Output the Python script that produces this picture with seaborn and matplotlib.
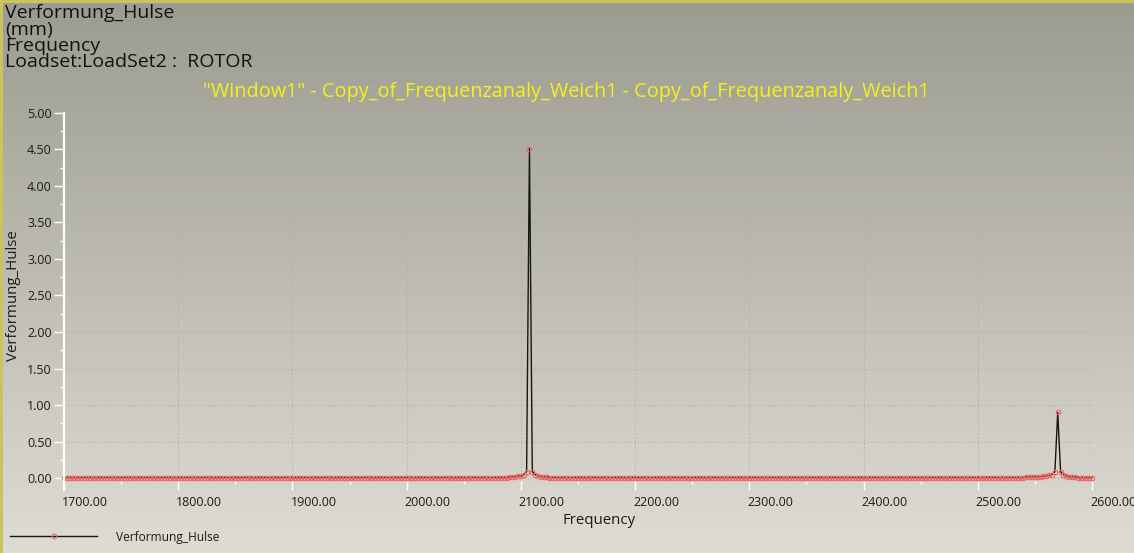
import numpy as np
import matplotlib
matplotlib.use("Agg")
import matplotlib.pyplot as plt
import matplotlib.transforms as mtransforms
from matplotlib.patches import Rectangle
from matplotlib.ticker import MultipleLocator
import seaborn as sns

# ---------------- data ----------------
frequency = [
    1700, 1702.5, 1705, 1707.5, 1710, 1712.5, 1715, 1717.5, 1720, 1722.5, 1725, 1727.5, 1730, 1732.5, 1735, 1737.5, 1740, 1742.5, 1745, 1747.5,
    1750, 1752.5, 1755, 1757.5, 1760, 1762.5, 1765, 1767.5, 1770, 1772.5, 1775, 1777.5, 1780, 1782.5, 1785, 1787.5, 1790, 1792.5, 1795, 1797.5,
    1800, 1802.5, 1805, 1807.5, 1810, 1812.5, 1815, 1817.5, 1820, 1822.5, 1825, 1827.5, 1830, 1832.5, 1835, 1837.5, 1840, 1842.5, 1845, 1847.5,
    1850, 1852.5, 1855, 1857.5, 1860, 1862.5, 1865, 1867.5, 1870, 1872.5, 1875, 1877.5, 1880, 1882.5, 1885, 1887.5, 1890, 1892.5, 1895, 1897.5,
    1900, 1902.5, 1905, 1907.5, 1910, 1912.5, 1915, 1917.5, 1920, 1922.5, 1925, 1927.5, 1930, 1932.5, 1935, 1937.5, 1940, 1942.5, 1945, 1947.5,
    1950, 1952.5, 1955, 1957.5, 1960, 1962.5, 1965, 1967.5, 1970, 1972.5, 1975, 1977.5, 1980, 1982.5, 1985, 1987.5, 1990, 1992.5, 1995, 1997.5,
    2000, 2002.5, 2005, 2007.5, 2010, 2012.5, 2015, 2017.5, 2020, 2022.5, 2025, 2027.5, 2030, 2032.5, 2035, 2037.5, 2040, 2042.5, 2045, 2047.5,
    2050, 2052.5, 2055, 2057.5, 2060, 2062.5, 2065, 2067.5, 2070, 2072.5, 2075, 2077.5, 2080, 2082.5, 2085, 2087.5, 2090, 2092.5, 2095, 2097.5,
    2100, 2102.5, 2105, 2107.5, 2110, 2112.5, 2115, 2117.5, 2120, 2122.5, 2125, 2127.5, 2130, 2132.5, 2135, 2137.5, 2140, 2142.5, 2145, 2147.5,
    2150, 2152.5, 2155, 2157.5, 2160, 2162.5, 2165, 2167.5, 2170, 2172.5, 2175, 2177.5, 2180, 2182.5, 2185, 2187.5, 2190, 2192.5, 2195, 2197.5,
    2200, 2202.5, 2205, 2207.5, 2210, 2212.5, 2215, 2217.5, 2220, 2222.5, 2225, 2227.5, 2230, 2232.5, 2235, 2237.5, 2240, 2242.5, 2245, 2247.5,
    2250, 2252.5, 2255, 2257.5, 2260, 2262.5, 2265, 2267.5, 2270, 2272.5, 2275, 2277.5, 2280, 2282.5, 2285, 2287.5, 2290, 2292.5, 2295, 2297.5,
    2300, 2302.5, 2305, 2307.5, 2310, 2312.5, 2315, 2317.5, 2320, 2322.5, 2325, 2327.5, 2330, 2332.5, 2335, 2337.5, 2340, 2342.5, 2345, 2347.5,
    2350, 2352.5, 2355, 2357.5, 2360, 2362.5, 2365, 2367.5, 2370, 2372.5, 2375, 2377.5, 2380, 2382.5, 2385, 2387.5, 2390, 2392.5, 2395, 2397.5,
    2400, 2402.5, 2405, 2407.5, 2410, 2412.5, 2415, 2417.5, 2420, 2422.5, 2425, 2427.5, 2430, 2432.5, 2435, 2437.5, 2440, 2442.5, 2445, 2447.5,
    2450, 2452.5, 2455, 2457.5, 2460, 2462.5, 2465, 2467.5, 2470, 2472.5, 2475, 2477.5, 2480, 2482.5, 2485, 2487.5, 2490, 2492.5, 2495, 2497.5,
    2500, 2502.5, 2505, 2507.5, 2510, 2512.5, 2515, 2517.5, 2520, 2522.5, 2525, 2527.5, 2530, 2532.5, 2535, 2537.5, 2540, 2542.5, 2545, 2547.5,
    2550, 2552.5, 2555, 2557.5, 2560, 2562.5, 2565, 2567.5, 2570, 2572.5, 2575, 2577.5, 2580, 2582.5, 2585, 2587.5, 2590, 2592.5, 2595, 2597.5,
    2600,
]

verformung_hulse = [
    0.01, 0.01, 0.01, 0.01, 0.01, 0.01, 0.01, 0.01, 0.01, 0.01, 0.01, 0.01, 0.01, 0.01, 0.01, 0.01, 0.01, 0.01, 0.01, 0.01,
    0.01, 0.01, 0.01, 0.01, 0.01, 0.01, 0.01, 0.01, 0.01, 0.01, 0.01, 0.01, 0.01, 0.01, 0.01, 0.01, 0.01, 0.01, 0.01, 0.01,
    0.01, 0.01, 0.01, 0.01, 0.01, 0.01, 0.01, 0.01, 0.01, 0.01, 0.01, 0.01, 0.01, 0.01, 0.01, 0.01, 0.01, 0.01, 0.01, 0.01,
    0.01, 0.01, 0.01, 0.01, 0.01, 0.01, 0.01, 0.01, 0.01, 0.01, 0.01, 0.01, 0.01, 0.01, 0.01, 0.01, 0.01, 0.01, 0.01, 0.01,
    0.01, 0.01, 0.01, 0.01, 0.01, 0.01, 0.01, 0.01, 0.01, 0.01, 0.01, 0.01, 0.01, 0.01, 0.01, 0.01, 0.01, 0.01, 0.01, 0.01,
    0.01, 0.01, 0.01, 0.01, 0.01, 0.01, 0.01, 0.01, 0.01, 0.01, 0.01, 0.01, 0.01, 0.01, 0.01, 0.01, 0.01, 0.01, 0.01, 0.01,
    0.01, 0.01, 0.01, 0.01, 0.01, 0.01, 0.01, 0.01, 0.01, 0.01, 0.01, 0.01, 0.01, 0.01, 0.01, 0.01, 0.01, 0.01, 0.01, 0.01,
    0.01, 0.01, 0.01, 0.01, 0.01, 0.01, 0.01, 0.01, 0.01, 0.01, 0.01, 0.01, 0.01, 0.01, 0.01, 0.01, 0.02, 0.02, 0.02, 0.03,
    0.03, 0.05, 0.09, 4.51, 0.09, 0.05, 0.03, 0.02, 0.02, 0.02, 0.01, 0.01, 0.01, 0.01, 0.01, 0.01, 0.01, 0.01, 0.01, 0.01,
    0.01, 0.01, 0.01, 0.01, 0.01, 0.01, 0.01, 0.01, 0.01, 0.01, 0.01, 0.01, 0.01, 0.01, 0.01, 0.01, 0.01, 0.01, 0.01, 0.01,
    0.01, 0.01, 0.01, 0.01, 0.01, 0.01, 0.01, 0.01, 0.01, 0.01, 0.01, 0.01, 0.01, 0.01, 0.01, 0.01, 0.01, 0.01, 0.01, 0.01,
    0.01, 0.01, 0.01, 0.01, 0.01, 0.01, 0.01, 0.01, 0.01, 0.01, 0.01, 0.01, 0.01, 0.01, 0.01, 0.01, 0.01, 0.01, 0.01, 0.01,
    0.01, 0.01, 0.01, 0.01, 0.01, 0.01, 0.01, 0.01, 0.01, 0.01, 0.01, 0.01, 0.01, 0.01, 0.01, 0.01, 0.01, 0.01, 0.01, 0.01,
    0.01, 0.01, 0.01, 0.01, 0.01, 0.01, 0.01, 0.01, 0.01, 0.01, 0.01, 0.01, 0.01, 0.01, 0.01, 0.01, 0.01, 0.01, 0.01, 0.01,
    0.01, 0.01, 0.01, 0.01, 0.01, 0.01, 0.01, 0.01, 0.01, 0.01, 0.01, 0.01, 0.01, 0.01, 0.01, 0.01, 0.01, 0.01, 0.01, 0.01,
    0.01, 0.01, 0.01, 0.01, 0.01, 0.01, 0.01, 0.01, 0.01, 0.01, 0.01, 0.01, 0.01, 0.01, 0.01, 0.01, 0.01, 0.01, 0.01, 0.01,
    0.01, 0.01, 0.01, 0.01, 0.01, 0.01, 0.01, 0.01, 0.01, 0.01, 0.01, 0.01, 0.01, 0.01, 0.01, 0.01, 0.01, 0.02, 0.02, 0.02,
    0.02, 0.02, 0.02, 0.03, 0.03, 0.04, 0.05, 0.09, 0.90, 0.09, 0.05, 0.03, 0.02, 0.02, 0.02, 0.01, 0.01, 0.01, 0.01, 0.01,
    0.01,
]

x_ticks = [1700, 1800, 1900, 2000, 2100, 2200, 2300, 2400, 2500, 2600]
x_tick_labels = ["1700.00", "1800.00", "1900.00", "2000.00", "2100.00",
                 "2200.00", "2300.00", "2400.00", "2500.00", "2600.00"]
y_ticks = [0.0, 0.5, 1.0, 1.5, 2.0, 2.5, 3.0, 3.5, 4.0, 4.5, 5.0]
y_tick_labels = ["0.00", "0.50", "1.00", "1.50", "2.00", "2.50",
                 "3.00", "3.50", "4.00", "4.50", "5.00"]

header_lines = ["Verformung_Hulse", "(mm)", "Frequency", "Loadset:LoadSet2 :  ROTOR"]
title_text = '"Window1" - Copy_of_Frequenzanaly_Weich1 - Copy_of_Frequenzanaly_Weich1'
series_name = "Verformung_Hulse"
x_label = "Frequency"
y_label = "Verformung_Hulse"

# ---------------- figure ----------------
plt.rcParams['font.family'] = ["Open Sans", "DejaVu Sans"]
W, H = 1134, 553
fig = plt.figure(figsize=(W / 100, H / 100), dpi=100)

# gradient background
bg = fig.add_axes([0, 0, 1, 1], zorder=-10)
top_c = np.array([0x9c, 0x9b, 0x90]) / 255.0
bot_c = np.array([0xdf, 0xdd, 0xd3]) / 255.0
t = np.linspace(0, 1, 256)[:, None, None]
img = top_c[None, None, :] + (bot_c - top_c)[None, None, :] * t
bg.imshow(img, aspect='auto', extent=[0, 1, 0, 1], origin='upper')
bg.set_axis_off()

# yellow frame lines (top, left)
fig.patches.append(Rectangle((0, 1 - 2.5 / H), 1, 2.5 / H, transform=fig.transFigure,
                             facecolor='#c9c45c', edgecolor='none', zorder=5))
fig.patches.append(Rectangle((0, 0), 2.5 / W, 1, transform=fig.transFigure,
                             facecolor='#c9c45c', edgecolor='none', zorder=5))

# main axes: x 1700..2600 -> px 64..1092, y from -0.037 (481px) to 5.0 (112.7px)
ax_left, ax_right = 64, 1092
ax_top, ax_bottom = 112.7, 481
ax = fig.add_axes([ax_left / W, (H - ax_bottom) / H,
                   (ax_right - ax_left) / W, (ax_bottom - ax_top) / H])
ax.set_facecolor('none')

sns.lineplot(x=frequency, y=verformung_hulse, ax=ax, color='#151515', linewidth=1.0,
             marker='o', markersize=3.2, markerfacecolor='none',
             markeredgecolor='#ee6464', markeredgewidth=0.8,
             label=series_name, clip_on=False, sort=True)

ax.set_xlim(1700, 2600)
ax.set_ylim(-0.037, 5.0)

for s in ['top', 'right', 'bottom']:
    ax.spines[s].set_visible(False)
ax.spines['left'].set_color('white')
ax.spines['left'].set_linewidth(1.6)
ax.spines['left'].set_bounds(-0.16, 5.0)

ax.set_xticks(x_ticks)
ax.set_xticklabels(x_tick_labels)
ax.xaxis.set_minor_locator(MultipleLocator(50))
ax.set_yticks(y_ticks)
ax.set_yticklabels(y_tick_labels)
ax.yaxis.set_minor_locator(MultipleLocator(0.25))

ax.tick_params(axis='x', which='major', direction='out', length=6.5, width=1.0,
               color='white', labelsize=9, labelcolor='#1a1a1a', pad=4.5)
ax.tick_params(axis='x', which='minor', direction='out', length=2.2, width=1.0, color='white')
ax.tick_params(axis='y', which='major', direction='out', length=7.2, width=1.0,
               color='white', labelsize=9, labelcolor='#1a1a1a', pad=1.5)
ax.tick_params(axis='y', which='minor', direction='out', length=2.9, width=1.0, color='white')

shift = mtransforms.ScaledTranslation(-2 / 100, 0, fig.dpi_scale_trans)
for lab in ax.get_xticklabels():
    lab.set_horizontalalignment('left')
    lab.set_transform(lab.get_transform() + shift)

ax.grid(True, which='major', color='#b0afa6', linestyle=(0, (1, 2)), linewidth=0.8)
ax.set_axisbelow(True)

ax.set_xlabel(x_label, fontsize=10.8, color='#1a1a1a')
ax.set_ylabel(y_label, fontsize=10.8, color='#1a1a1a')
ax.xaxis.set_label_coords((599 - ax_left) / (ax_right - ax_left),
                          (ax_bottom - 512.5) / (ax_bottom - ax_top))
ax.xaxis.label.set_va('top')
ax.yaxis.set_label_coords((21 - ax_left) / (ax_right - ax_left),
                          (ax_bottom - 296) / (ax_bottom - ax_top))

# legend at bottom left
leg = ax.legend(loc='center left', bbox_to_anchor=(10 / W, (H - 537) / H),
                bbox_transform=fig.transFigure, frameon=False, fontsize=8.6,
                handlelength=7.3, handletextpad=1.6, borderpad=0, borderaxespad=0,
                numpoints=1, markerscale=1.0)
for txt in leg.get_texts():
    txt.set_color('#1a1a1a')

# header text block (one multi-line text, tight line spacing)
fig.text(5 / W, 1 - 4.5 / H, "\n".join(header_lines), fontsize=14, color='#111111',
         ha='left', va='top', linespacing=0.86)

fig.text(566.5 / W, (H - 97) / H, title_text, fontsize=14.3, color='#f2f21a',
         ha='center', va='baseline')

fig.savefig('out.png', dpi=100)
